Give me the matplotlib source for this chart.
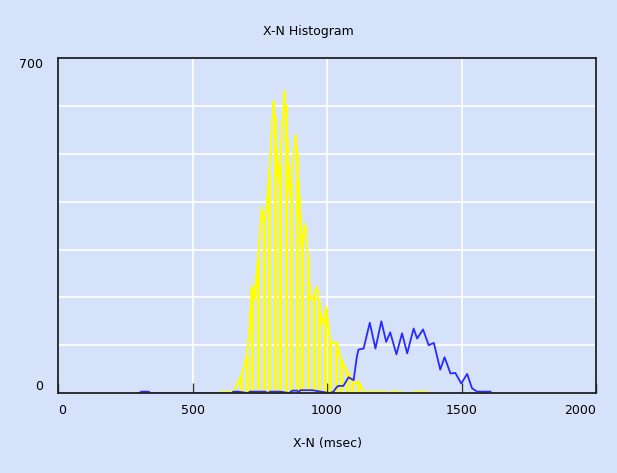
import numpy as np
import matplotlib.pyplot as plt
from matplotlib.ticker import MultipleLocator

# yellow series: envelope (msec, count)
yellow_x = [600, 608, 650, 660, 680, 700, 712, 720, 730, 745, 758, 765, 775, 790, 801,
            808, 815, 822, 832, 842, 850, 862, 872, 884, 892, 900, 906, 912, 919, 928,
            938, 948, 963, 972, 981, 990, 997, 1005, 1012, 1025, 1037, 1049, 1065, 1080,
            1099, 1117, 1136, 1150, 1160, 1217, 1225, 1247, 1272, 1280, 1355, 1373, 1380]
yellow_y = [0, 2, 2, 10, 35, 70, 130, 225, 195, 290, 390, 350, 380, 500, 610,
            560, 480, 440, 540, 630, 570, 410, 470, 540, 460, 390, 300, 330, 354, 290,
            201, 195, 222, 180, 145, 160, 181, 140, 110, 105, 104, 76, 55, 41,
            20, 24, 3, 0, 2, 2, 0, 2, 2, 0, 2, 2, 0]

# yellow spikes (drop lines to zero)
spike_x = [682, 703, 723, 744, 764, 785, 806, 826, 847, 867, 888, 908, 929, 950,
           970, 991, 1011, 1032, 1052, 1073, 1094, 1114, 1135]
spike_y = [35, 75, 215, 285, 355, 460, 575, 480, 600, 440, 500, 320, 285, 200,
           190, 160, 112, 104, 72, 47, 22, 24, 4]

# blue series
blue_x = [300, 311, 336, 345, 645, 652, 670, 705, 714, 770, 780, 789, 826, 860, 870,
          890, 895, 900, 945, 1010, 1024, 1037, 1043, 1061, 1080, 1099, 1111, 1117,
          1136, 1159, 1180, 1202, 1220, 1235, 1258, 1279, 1298, 1322, 1335, 1357,
          1378, 1397, 1421, 1437, 1459, 1477, 1499, 1521, 1539, 1558, 1608]
blue_y = [0, 3, 3, 0, 0, 3, 3, 0, 3, 3, 0, 3, 3, 0, 5,
          5, 0, 6, 6, 0, 3, 13, 15, 15, 33, 27, 76, 91,
          93, 147, 93, 150, 107, 127, 81, 125, 83, 135, 114, 133,
          100, 105, 49, 75, 41, 42, 20, 40, 10, 3, 3]

xticks = [0, 500, 1000, 1500, 2000]
yticks = [0, 700]

bg = '#d6e2fa'
fig = plt.figure(figsize=(6.17, 4.73), dpi=100, facecolor=bg)
ax = fig.add_axes([0.094, 0.169, 0.872, 0.708], facecolor=bg)

ax.plot(yellow_x, yellow_y, color='#ffff00', lw=0.75, antialiased=False)
ax.vlines(spike_x, 0, spike_y, color='#ffff00', lw=0.75, antialiased=False)
ax.plot(blue_x, blue_y, color='#2a2aff', lw=1.3)

ax.set_xlim(0, 2000)
ax.set_ylim(0, 700)
ax.set_xticks(xticks)
ax.set_yticks(yticks)
ax.yaxis.set_minor_locator(MultipleLocator(100))
ax.set_axisbelow(True)
ax.grid(True, which='major', axis='x', color='white', lw=1.2)
ax.grid(True, which='minor', axis='y', color='white', lw=1.2)

ax.tick_params(axis='x', direction='in', length=7.5, width=1, color='#333333',
               pad=8, labelsize=9)
ax.tick_params(axis='y', which='both', length=0, pad=11, labelsize=9)
xl = ax.get_xticklabels()
xl[0].set_ha('left')
xl[-1].set_ha('right')
yl = ax.get_yticklabels()
yl[0].set_va('bottom')
yl[-1].set_va('top')

for s in ax.spines.values():
    s.set_color('#222222')
    s.set_linewidth(1.3)

fig.text(0.5, 1 - 32 / 473, 'X-N Histogram', ha='center', va='center', fontsize=9)
ax.set_xlabel('X-N (msec)', fontsize=9, labelpad=14)

fig.savefig('out.png', dpi=100, facecolor=bg)
